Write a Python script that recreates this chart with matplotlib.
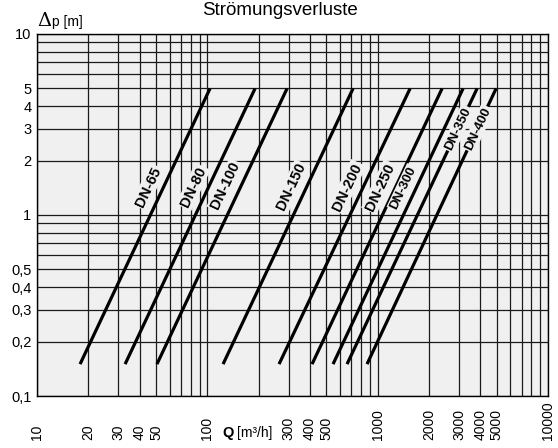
import numpy as np
import matplotlib
matplotlib.use("Agg")
import matplotlib.pyplot as plt

plt.rcParams["font.family"] = ["Liberation Sans", "DejaVu Sans"]

# pipe sizes and the flow (m3/h) at the low and high end of each line
sizes = ["DN-65", "DN-80", "DN-100", "DN-150", "DN-200", "DN-250", "DN-300", "DN-350", "DN-400"]
q_low = [17.9, 32.9, 50.6, 123.7, 263.6, 411.9, 547, 661, 866]
q_high = [103.7, 190.6, 293.8, 717, 1550, 2389, 3173, 3834, 4958]
dp_low = 0.15
dp_high = 5.0

# label heights (m) on each line
label_dp = [1.43, 1.43, 1.45, 1.43, 1.43, 1.43, 1.41, 3.0, 3.0]

xtick_vals = [10, 20, 30, 40, 50, 100, 300, 400, 500, 1000, 2000, 3000, 4000, 5000, 10000]
ytick_vals = [0.1, 0.2, 0.3, 0.4, 0.5, 1, 2, 3, 4, 5, 10]
ytick_labels = ["0,1", "0,2", "0,3", "0,4", "0,5", "1", "2", "3", "4", "5", "10"]

W, H = 558, 448
fig = plt.figure(figsize=(W / 100, H / 100), dpi=100)
ax = fig.add_axes([37 / W, 1 - 396 / H, (548 - 37) / W, (396 - 34) / H])
ax.set_facecolor("#f0f0f0")
ax.set_xscale("log")
ax.set_yscale("log")
ax.set_xlim(10, 10000)
ax.set_ylim(0.1, 10)

ax.grid(True, which="both", color="#1a1a1a", lw=0.9)
ax.set_axisbelow(True)
for s in ax.spines.values():
    s.set_linewidth(1.0)

ax.set_xticks(xtick_vals)
ax.set_xticklabels([str(v) for v in xtick_vals], rotation=90, fontsize=10, va="bottom")
ax.set_yticks(ytick_vals)
ax.set_yticklabels(ytick_labels, fontsize=10.5)
ax.tick_params(axis="both", which="both", length=0)
ax.tick_params(axis="x", pad=44 * 0.72)
ax.tick_params(axis="y", pad=4)

for i, name in enumerate(sizes):
    ax.plot([q_low[i], q_high[i]], [dp_low, dp_high], color="black", lw=2.3,
            solid_capstyle="butt", zorder=3)

fig.canvas.draw()
for i, name in enumerate(sizes):
    p0 = ax.transData.transform((q_low[i], dp_low))
    p1 = ax.transData.transform((q_high[i], dp_high))
    ang = np.degrees(np.arctan2(p1[1] - p0[1], p1[0] - p0[0]))
    q = q_low[i] * np.sqrt(label_dp[i] / dp_low)
    on_line = i >= 7
    dx = 0 if on_line else (-9 if i == 6 else -11)
    fs = 9.5 if i >= 6 else 10.5
    ax.annotate(name, (q, label_dp[i]), xytext=(dx, 0), textcoords="offset points",
                rotation=ang, rotation_mode="anchor", ha="center", va="center",
                fontsize=fs, fontweight="bold", zorder=4,
                bbox=dict(boxstyle="square,pad=0.1", fc="#f0f0f0", ec="none"))

fig.text(280 / W, 1 - 2 / H, "Strömungsverluste", ha="center", va="top", fontsize=13.5)
fig.text(37 / W, 1 - 26 / H, "Δ", family="DejaVu Serif", fontsize=14, ha="left", va="baseline")
fig.text(52 / W, 1 - 26 / H, "p [m]", fontsize=10, ha="left", va="baseline")
fig.text(222 / W, 1 - 437 / H, "Q", fontsize=10.5, fontweight="bold", ha="left", va="baseline")
fig.text(237 / W, 1 - 437 / H, "[m³/h]", fontsize=10, ha="left", va="baseline")

fig.savefig("out.png", dpi=100)
